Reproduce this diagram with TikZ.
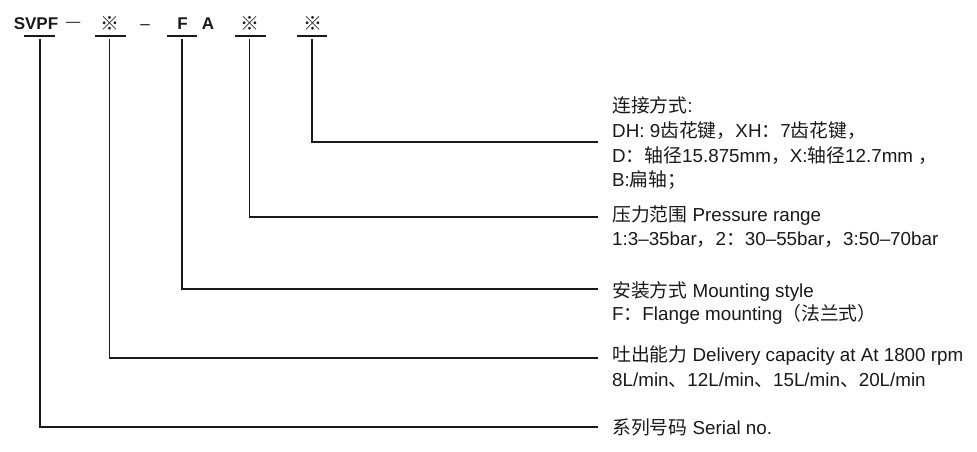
\documentclass[tikz,border=0pt]{standalone}
\usepackage{fontspec}
\setmainfont{Liberation Sans}
\newfontfamily\cjkf{Noto Sans CJK SC}
\newcommand{\cj}[1]{{\cjkf #1}}
\begin{document}
\begin{tikzpicture}[x=1pt,y=-1pt,
  lbl/.style={anchor=base west,inner sep=0pt,font=\fontsize{18.8}{22}\selectfont,text=black!90},
  hdr/.style={anchor=base,inner sep=0pt,font=\fontsize{17}{20}\selectfont\bfseries,text=black!90},
  dashtxt/.style={anchor=base,inner sep=0pt,font=\fontsize{17}{20}\selectfont,text=black!90},
  refmark/.style={anchor=base,inner sep=0pt,font=\fontsize{19}{22}\cjkf,text=black!90},
  uline/.style={line width=1.1pt,black!90},
  conn/.style={line width=1.2pt,black!90}]
\useasboundingbox (0,0) rectangle (977,451);
% header
\node[hdr] (svpf) at (36,29) {SVPF};
\node[dashtxt,font=\fontsize{14.5}{17}\selectfont] (d1) at (73,26) {—};
\node[refmark] (m1) at (110,30) {※};
\node[dashtxt] (d2) at (145,29) {–};
\node[hdr] (f) at (182.5,29) {F};
\node[hdr] (a) at (208,29) {A};
\node[refmark] (m2) at (250,30) {※};
\node[refmark] (m3) at (312.5,30) {※};
% underlines
\draw[uline] (24,36) -- (55,36);
\draw[uline] (95,36) -- (126,36);
\draw[uline] (167,36) -- (197,36);
\draw[uline] (235,36) -- (266,36);
\draw[uline] (297,36) -- (327,36);
% connector start points
\coordinate (s1) at (40,39);
\coordinate (s2) at (109.5,39);
\coordinate (s3) at (182,39);
\coordinate (s4) at (249.5,39);
\coordinate (s5) at (312,39);
% connector end points
\coordinate (e1) at (598,427);
\coordinate (e2) at (598,358);
\coordinate (e3) at (598,289);
\coordinate (e4) at (598,217);
\coordinate (e5) at (598,142);
\draw[conn] (s1) |- (e1);
\draw[conn] (s2) |- (e2);
\draw[conn] (s3) |- (e3);
\draw[conn] (s4) |- (e4);
\draw[conn] (s5) |- (e5);
% labels
\node[lbl] (t1) at (612,112.5) {\cj{连接方式}:};
\node[lbl] (t2) at (612,137) {DH: 9\cj{齿花键，}XH\cj{：}7\cj{齿花键，}};
\node[lbl] (t3) at (612,162) {D\cj{：轴径}15.875mm\cj{，}X:\cj{轴径}12.7mm \cj{，}};
\node[lbl] (t4) at (612,186) {B:\cj{扁轴；}};
\node[lbl] (t5) at (612,221) {\cj{压力范围} Pressure range};
\node[lbl] (t6) at (612,245) {1:3–35bar\cj{，}2\cj{：}30–55bar\cj{，}3:50–70bar};
\node[lbl] (t7) at (612,297) {\cj{安装方式} Mounting style};
\node[lbl] (t8) at (612,320) {F\cj{：}Flange mounting\cj{（法兰式）}};
\node[lbl] (t9) at (612,361) {\cj{吐出能力} Delivery capacity at At 1800 rpm};
\node[lbl] (t10) at (612,386) {8L/min\cj{、}12L/min\cj{、}15L/min\cj{、}20L/min};
\node[lbl] (t11) at (612,434) {\cj{系列号码} Serial no.};
\end{tikzpicture}
\end{document}
